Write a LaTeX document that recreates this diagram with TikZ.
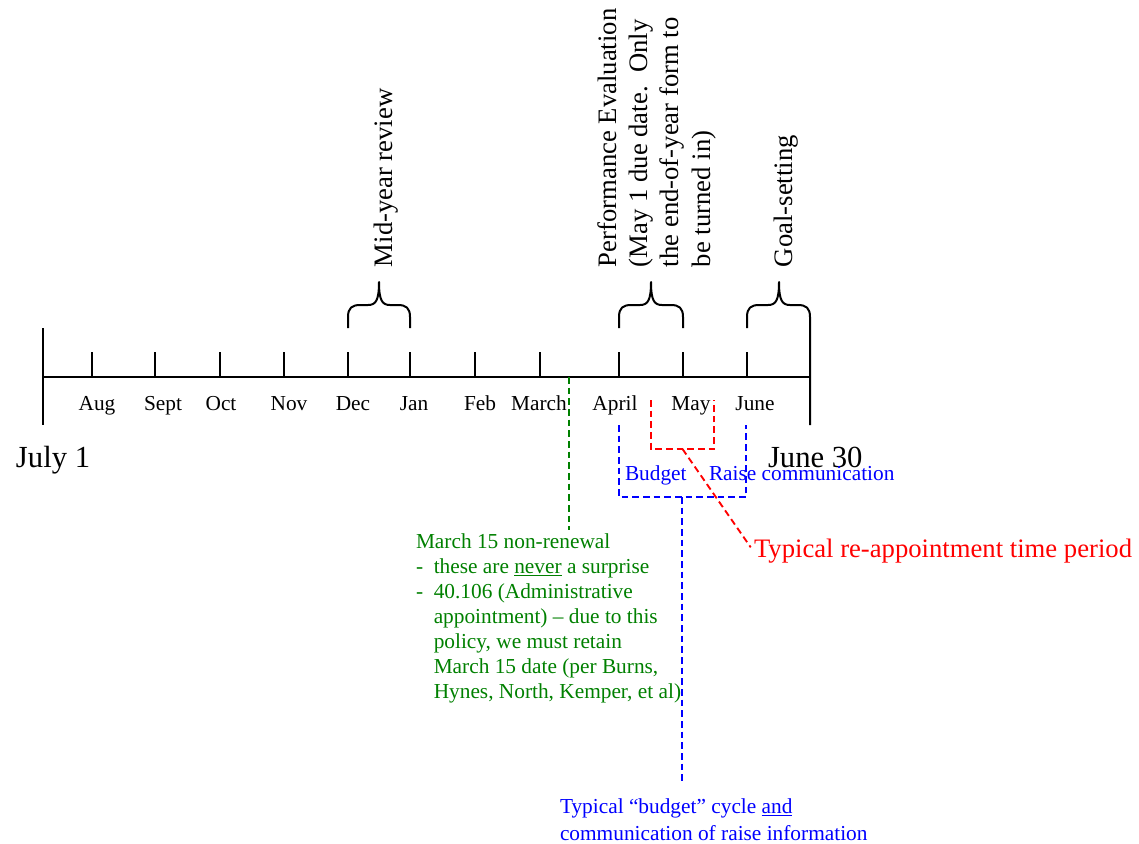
\documentclass[tikz,border=0pt]{standalone}
\usepackage{fontspec}
\setmainfont{Liberation Serif}
\begin{document}
\begin{tikzpicture}[x=0.75pt,y=-0.75pt,line width=1.5pt]
	% Colours
	\definecolor{nonrenewgreen}{RGB}{0,128,0}   % March 15 non-renewal
	\definecolor{budgetblue}{RGB}{0,0,255}      % budget cycle
	\definecolor{reapptred}{RGB}{255,0,0}       % re-appointment
	
	% Styles
	\tikzset{
		month/.style={anchor=base, inner sep=0pt, font=\fontsize{16}{19}\selectfont},
		milestone/.style={rotate=90, anchor=base west, inner sep=0pt, font=\fontsize{20}{23.5}\selectfont},
		enddate/.style={anchor=base west, inner sep=0pt, font=\fontsize{23}{27}\selectfont},
		note/.style={anchor=base west, inner sep=0pt, font=\fontsize{16}{18.75}\selectfont},
		period/.style={dash pattern=on 5pt off 3pt, line width=1.4pt},
		bracket/.style={line width=1.5pt, line join=round},
	}
	
	% Brace: left x, tip x, right x, lower end of right leg
	\def\timebrace#1#2#3#4{
		\draw[bracket] (#1,328) -- (#1,317) .. controls (#1,308) and (#1+4,305) .. (#1+12,305)
			-- (#2-11,305) .. controls (#2-3,305) and (#2,300) .. (#2,282)
			.. controls (#2,300) and (#2+3,305) .. (#2+11,305)
			-- (#3-12,305) .. controls (#3-4,305) and (#3,308) .. (#3,317) -- (#3,#4);
	}
	
	\useasboundingbox (0,0) rectangle (1139,843);
	
	% Timeline
	\coordinate (jul1) at (43,377);
	\coordinate (jun30) at (810,377);
	\draw (jul1) -- (jun30);
	\draw (43,328) -- (43,425);
	
	% Month ticks
	\coordinate (aug) at (92,377);
	\coordinate (sep) at (155,377);
	\coordinate (oct) at (220,377);
	\coordinate (nov) at (284,377);
	\coordinate (dec) at (348,377);
	\coordinate (jan) at (410,377);
	\coordinate (feb) at (475,377);
	\coordinate (mar) at (540,377);
	\coordinate (apr) at (619,377);
	\coordinate (may) at (683,377);
	\coordinate (jun) at (747,377);
	\draw (aug) -- ++(0,-25);
	\draw (sep) -- ++(0,-25);
	\draw (oct) -- ++(0,-25);
	\draw (nov) -- ++(0,-25);
	\draw (dec) -- ++(0,-25);
	\draw (jan) -- ++(0,-25);
	\draw (feb) -- ++(0,-25);
	\draw (mar) -- ++(0,-25);
	\draw (apr) -- ++(0,-25);
	\draw (may) -- ++(0,-25);
	\draw (jun) -- ++(0,-25);
	
	% Month names
	\node[month] (augl) at (97,410) {Aug};
	\node[month] (sepl) at (163,410) {Sept};
	\node[month] (octl) at (221,410) {Oct};
	\node[month] (novl) at (289,410) {Nov};
	\node[month] (decl) at (353,410) {Dec};
	\node[month] (janl) at (414,410) {Jan};
	\node[month] (febl) at (480,410) {Feb};
	\node[month] (marl) at (539,410) {March};
	\node[month] (aprl) at (615,410) {April};
	\node[month] (mayl) at (691,410) {May};
	\node[month] (junl) at (755,410) {June};
	
	% Start and end of the year
	\node[enddate] (july) at (15,467) {July 1};
	\node[enddate] (june) at (767,467) {June 30};
	
	% Braces and what happens then
	\timebrace{348}{379}{410}{328}
	\timebrace{619}{651}{683}{328}
	\timebrace{747}{779}{810}{425}
	\node[milestone] (midyear) at (392,268) {Mid-year review};
	\node[milestone] (perfeval) at (616,268)
	{\begin{tabular}[t]{@{}l@{}}Performance Evaluation\\(May 1 due date.\ \ Only\\the end-of-year form to\\be turned in)\end{tabular}};
	\node[milestone] (goal) at (792,268) {Goal-setting};
	
	% March 15 non-renewal
	\coordinate (mar15) at (569,377);
	\node[note, text=nonrenewgreen] (nonrenewal) at (415,548)
	{\begin{tabular}[t]{@{}l@{\hspace{8pt}}l@{}}
		\multicolumn{2}{@{}l@{}}{March 15 non-renewal}\\
		-&these are \underline{never} a surprise\\
		-&40.106 (Administrative\\
		&appointment) -- due to this\\
		&policy, we must retain\\
		&March 15 date (per Burns,\\
		&Hynes, North, Kemper, et al)
	\end{tabular}};
	\draw[period, nonrenewgreen] (mar15) -- (mar15 |- nonrenewal.north);
	
	% Budget and raise communication
	\coordinate (budgetL) at (619,425);
	\coordinate (budgetR) at (746,425);
	\coordinate (budgetdrop) at (682,497);
	\draw[period, budgetblue] (budgetL) -- (619,497) -- (746,497) -- (budgetR);
	\node[note, text=budgetblue] (budget) at (624,480) {Budget};
	\node[note, text=budgetblue] (raise) at (708,480) {Raise communication};
	\node[note, text=budgetblue, font=\fontsize{16}{20.25}\selectfont] (cyclenote) at (559,813)
	{\begin{tabular}[t]{@{}l@{}}Typical “budget” cycle \underline{and}\\communication of raise information\end{tabular}};
	\draw[period, budgetblue, shorten >=8pt] (budgetdrop) -- (budgetdrop |- cyclenote.north);
	
	% Re-appointment
	\coordinate (reapptL) at (651,400);
	\coordinate (reapptR) at (714,400);
	\coordinate (reapptdrop) at (682.5,449);
	\draw[period, reapptred] (reapptL) -- (651,449) -- (714,449) -- (reapptR);
	\node[note, text=reapptred, font=\fontsize{20}{24}\selectfont] (reappt) at (753,557) {Typical re-appointment time period};
	\draw[period, reapptred, shorten >=3pt] (reapptdrop) -- (reappt.west);
\end{tikzpicture}
\end{document}
